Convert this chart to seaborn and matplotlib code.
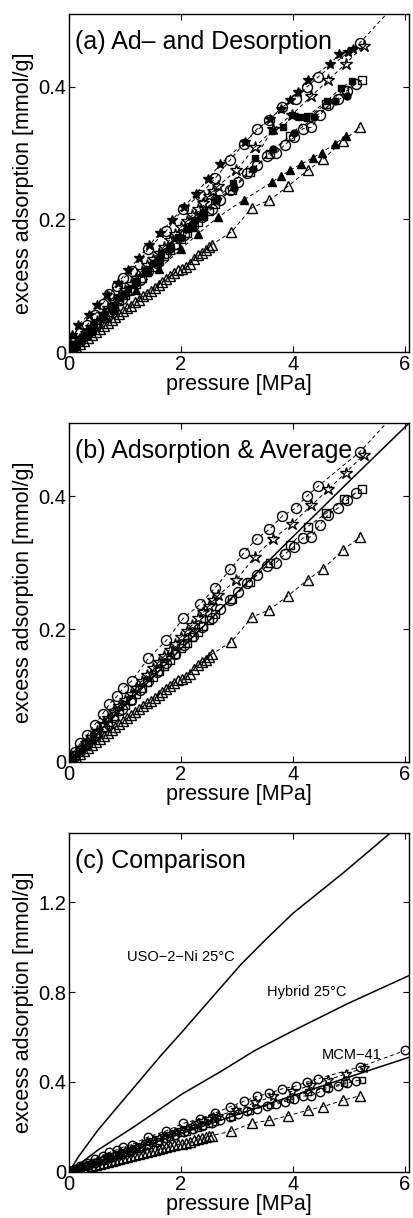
import numpy as np
import pandas as pd
import matplotlib
matplotlib.use("Agg")
import matplotlib.pyplot as plt
import seaborn as sns

# ---------------- data ----------------
# adsorption, open circles (upper)
p_circ1 = [0.03,0.10,0.20,0.32,0.46,0.60,0.72,0.86,0.97,1.12,1.42,1.74,2.04,2.34,2.61,2.88,3.12,3.35,3.58,3.81,4.05,4.25,4.45,5.20,6.00]
q_circ1 = [0.006,0.015,0.028,0.040,0.056,0.072,0.087,0.099,0.111,0.122,0.156,0.183,0.216,0.237,0.262,0.290,0.314,0.336,0.350,0.370,0.382,0.400,0.415,0.467,0.540]
# adsorption, open stars
p_star = [0.04,0.12,0.21,0.30,0.40,0.50,0.60,0.70,0.80,0.90,1.00,1.10,1.20,1.30,1.40,1.50,1.60,1.70,1.80,1.90,2.00,2.10,2.20,2.30,2.40,2.50,2.58,2.67,2.99,3.32,3.65,3.98,4.33,4.63,4.94,5.26]
q_star = [0.005,0.013,0.021,0.029,0.038,0.047,0.057,0.066,0.075,0.084,0.094,0.103,0.112,0.122,0.131,0.141,0.150,0.159,0.169,0.178,0.188,0.197,0.206,0.216,0.225,0.235,0.243,0.251,0.274,0.309,0.336,0.358,0.386,0.410,0.435,0.462]
# adsorption, open squares
p_sq = [0.03,0.11,0.20,0.30,0.40,0.50,0.60,0.70,0.80,0.90,1.00,1.10,1.20,1.30,1.40,1.50,1.60,1.70,1.80,1.90,2.00,2.10,2.20,2.30,2.40,2.50,2.61,2.91,3.23,3.59,3.95,4.26,4.59,4.91,5.23]
q_sq = [0.003,0.010,0.018,0.026,0.035,0.043,0.052,0.060,0.069,0.077,0.086,0.094,0.103,0.111,0.120,0.128,0.137,0.145,0.154,0.162,0.171,0.179,0.188,0.196,0.205,0.213,0.223,0.245,0.271,0.299,0.326,0.354,0.374,0.395,0.410]
# adsorption, open circles (lower)
p_circ2 = [0.03,0.10,0.20,0.33,0.47,0.62,0.78,0.94,1.10,1.26,1.42,1.58,1.74,1.90,2.06,2.22,2.38,2.55,2.70,2.875,3.02,3.18,3.36,3.53,3.70,3.86,4.02,4.18,4.33,4.48,4.63,4.80,4.96,5.13]
q_circ2 = [0.003,0.009,0.017,0.028,0.040,0.053,0.067,0.080,0.094,0.108,0.122,0.135,0.149,0.163,0.176,0.190,0.203,0.216,0.230,0.244,0.256,0.270,0.282,0.295,0.300,0.313,0.324,0.337,0.339,0.357,0.372,0.382,0.394,0.405]
# adsorption, open triangles
p_tri = [0.02,0.07,0.13,0.20,0.27,0.34,0.41,0.48,0.55,0.62,0.69,0.76,0.83,0.90,0.97,1.04,1.11,1.18,1.25,1.32,1.39,1.46,1.53,1.60,1.67,1.74,1.81,1.88,1.95,2.02,2.09,2.16,2.23,2.30,2.37,2.44,2.50,2.55,2.90,3.27,3.58,3.91,4.26,4.54,4.90,5.20]
q_tri = [0.001,0.004,0.008,0.012,0.017,0.021,0.026,0.030,0.035,0.039,0.044,0.048,0.053,0.057,0.062,0.066,0.070,0.075,0.079,0.084,0.088,0.092,0.097,0.101,0.106,0.110,0.115,0.119,0.123,0.125,0.128,0.133,0.140,0.146,0.150,0.154,0.158,0.162,0.181,0.218,0.229,0.250,0.274,0.291,0.319,0.339]

# desorption (filled markers, panel a)
p_star_d = [0.05,0.17,0.35,0.50,0.68,0.87,1.06,1.25,1.43,1.63,1.84,2.05,2.27,2.48,2.70,3.14,3.59,3.78,3.95,4.09,4.26,4.66,4.83,4.98,5.08]
q_star_d = [0.025,0.041,0.056,0.071,0.086,0.104,0.123,0.142,0.161,0.180,0.199,0.219,0.239,0.261,0.283,0.317,0.352,0.366,0.380,0.392,0.410,0.434,0.450,0.453,0.457]
p_sq_d = [0.10,0.30,0.45,0.60,0.75,0.90,1.05,1.20,1.35,1.50,1.65,1.80,1.95,2.10,2.25,2.40,2.62,2.93,3.33,3.62,3.83,3.99,4.10,4.23,4.61,4.85,5.05]
q_sq_d = [0.012,0.030,0.043,0.056,0.069,0.082,0.095,0.107,0.121,0.134,0.147,0.160,0.173,0.186,0.199,0.212,0.230,0.255,0.293,0.334,0.340,0.357,0.354,0.354,0.379,0.398,0.409]
p_circ_d = [0.10,0.25,0.40,0.60,0.80,1.00,1.20,1.40,1.60,1.80,2.00,2.20,2.40,2.64,2.95,3.29,3.65,4.02,4.38,4.75,4.96]
q_circ_d = [0.011,0.024,0.036,0.053,0.070,0.087,0.104,0.121,0.138,0.155,0.172,0.189,0.205,0.231,0.248,0.276,0.306,0.330,0.354,0.379,0.386]
p_tri_d = [0.10,0.40,0.80,1.20,1.60,2.00,2.30,2.67,3.13,3.62,3.79,3.95,4.15,4.36,4.51,4.75,4.95]
q_tri_d = [0.009,0.032,0.063,0.094,0.125,0.155,0.178,0.204,0.230,0.256,0.266,0.274,0.284,0.293,0.301,0.314,0.326]

# average line (MCM-41)
p_avg = [0.0,1.0,2.0,3.0,4.0,5.0,6.1]
q_avg = [0.0,0.085,0.170,0.255,0.339,0.422,0.512]
# comparison materials
p_uso = [0.0,0.17,0.52,1.12,1.65,2.01,2.50,3.08,3.50,4.00,4.90,5.73]
q_uso = [0.0,0.068,0.187,0.364,0.520,0.620,0.760,0.925,1.030,1.150,1.330,1.505]
p_hyb = [0.0,0.52,1.12,2.01,2.70,3.32,3.98,4.99,6.10]
q_hyb = [0.0,0.098,0.194,0.345,0.445,0.540,0.625,0.750,0.876]

x_ticks = [0, 2, 4, 6]
y_ticks_ab = [0, 0.2, 0.4]
y_ticks_c = [0, 0.4, 0.8, 1.2]
y_ticklabels_ab = ["0", "0.2", "0.4"]
y_ticklabels_c = ["0", "0.4", "0.8", "1.2"]
titles = ["(a) Ad\u2013 and Desorption", "(b) Adsorption & Average", "(c) Comparison"]

# ---------------- style ----------------
sns.set_theme(style="white", rc={
    "xtick.direction": "in", "ytick.direction": "in",
    "xtick.top": True, "ytick.right": True,
    "xtick.bottom": True, "ytick.left": True,
    "xtick.major.size": 4, "ytick.major.size": 4,
    "xtick.major.width": 0.8, "ytick.major.width": 0.8,
    "axes.edgecolor": "black", "axes.linewidth": 1.0,
    "xtick.color": "black", "ytick.color": "black",
    "axes.labelcolor": "black", "text.color": "black",
})
plt.rcParams["font.family"] = ["Liberation Sans", "DejaVu Sans"]

fig = plt.figure(figsize=(4.13, 12.18), dpi=100)
pos = [[0.167, 0.711, 0.823, 0.2775],
       [0.167, 0.3744, 0.823, 0.2783],
       [0.167, 0.0378, 0.823, 0.2783]]
axes = [fig.add_axes(p) for p in pos]

LW = 0.7
ads = [
    (p_circ1, q_circ1, "o", 7.2),
    (p_star, q_star, "*", 9.0),
    (p_sq, q_sq, "s", 5.8),
    (p_circ2, q_circ2, "o", 7.2),
    (p_tri, q_tri, "^", 7.8),
]
des = [
    (p_star_d, q_star_d, "*", 7.5),
    (p_sq_d, q_sq_d, "s", 5.0),
    (p_circ_d, q_circ_d, "o", 5.0),
    (p_tri_d, q_tri_d, "^", 5.5),
]


def draw_series(ax, p, q, marker, ms, filled):
    df = pd.DataFrame({"p": p, "q": q})
    sns.lineplot(data=df, x="p", y="q", ax=ax, estimator=None, sort=False,
                 color="black", linewidth=LW, linestyle=(0, (4, 3)),
                 marker=marker, markersize=ms,
                 markerfacecolor="black" if filled else "none",
                 markeredgecolor="black", markeredgewidth=1.0)


def draw_solid(ax, p, q, lw=1.1):
    df = pd.DataFrame({"p": p, "q": q})
    sns.lineplot(data=df, x="p", y="q", ax=ax, estimator=None, sort=False,
                 color="black", linewidth=lw)


# panel a
ax = axes[0]
for p, q, m, ms in ads:
    draw_series(ax, p, q, m, ms, False)
for p, q, m, ms in des:
    draw_series(ax, p, q, m, ms, True)

# panel b
ax = axes[1]
for p, q, m, ms in ads:
    draw_series(ax, p, q, m, ms, False)
draw_solid(ax, p_avg, q_avg)

# panel c
ax = axes[2]
for p, q, m, ms in ads:
    draw_series(ax, p, q, m, ms * 0.85, False)
draw_solid(ax, p_avg, q_avg)
draw_solid(ax, p_uso, q_uso)
draw_solid(ax, p_hyb, q_hyb)
ax.text(1.03, 0.955, "USO\u22122\u2212Ni 25\u00b0C", fontsize=10.5, ha="left", va="center")
ax.text(3.53, 0.80, "Hybrid 25\u00b0C", fontsize=10.5, ha="left", va="center")
ax.text(4.51, 0.52, "MCM\u221241", fontsize=10.5, ha="left", va="center")

for i, ax in enumerate(axes):
    ax.set_xlim(0, 6.07)
    ax.set_xticks(x_ticks)
    ax.set_xticklabels([str(t) for t in x_ticks])
    if i < 2:
        ax.set_ylim(0, 0.51)
        ax.set_yticks(y_ticks_ab)
        ax.set_yticklabels(y_ticklabels_ab)
    else:
        ax.set_ylim(0, 1.507)
        ax.set_yticks(y_ticks_c)
        ax.set_yticklabels(y_ticklabels_c)
    ax.tick_params(labelsize=14.5, pad=2)
    ax.set_xlabel("pressure [MPa]", fontsize=15.5, labelpad=0)
    ax.set_ylabel("excess adsorption [mmol/g]", fontsize=15.5, labelpad=3)
    ax.text(0.018, 0.917, titles[i], transform=ax.transAxes, fontsize=18,
            ha="left", va="center")
    for s in ax.spines.values():
        s.set_visible(True)
        s.set_color("black")

fig.savefig("out.png", dpi=100)
